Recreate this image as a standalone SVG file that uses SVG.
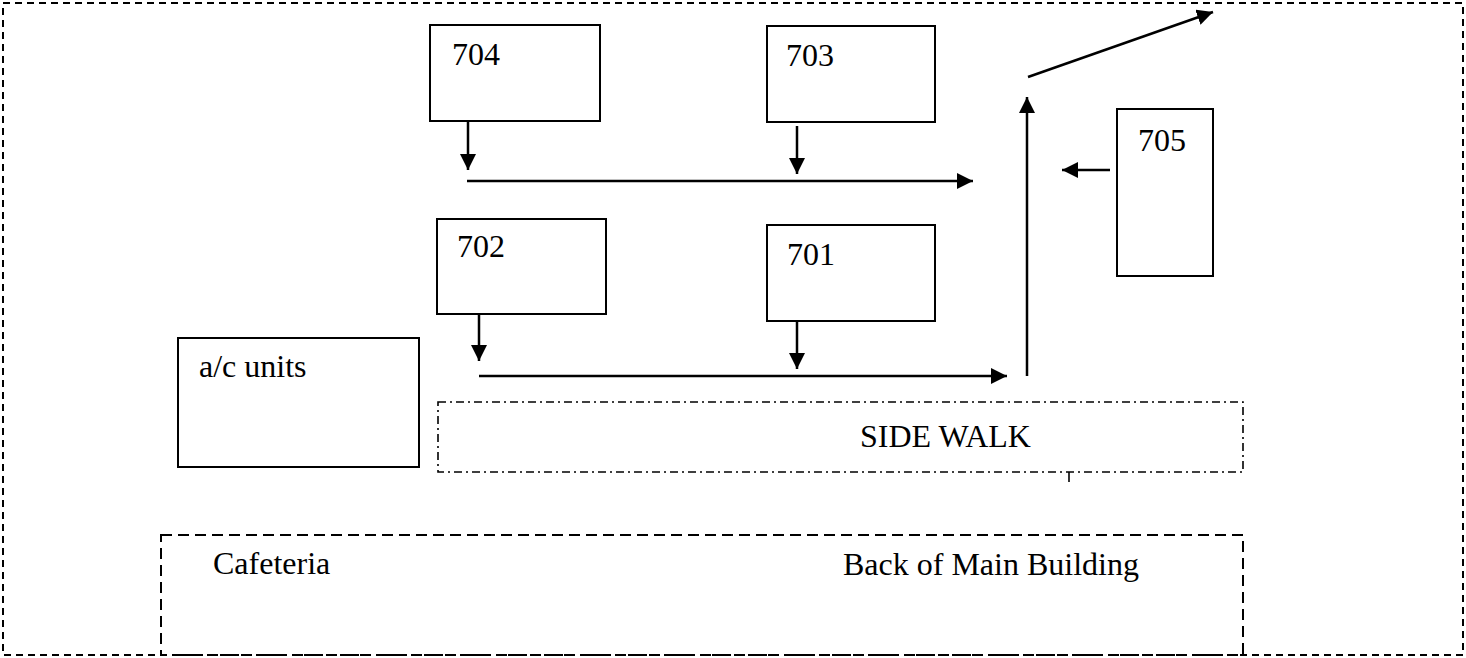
<svg xmlns="http://www.w3.org/2000/svg" width="1466" height="658" viewBox="0 0 1466 658">
<style>
.bg{fill:#fff}
.box{fill:#fff;stroke:#000;stroke-width:2}
.lbl{font-family:"Liberation Serif","Times New Roman",serif;font-size:32px;fill:#000}
.arr{stroke:#000;stroke-width:2.5;fill:none;marker-end:url(#ah)}
.outer{fill:none;stroke:#000;stroke-width:2;stroke-dasharray:7 5}
.walk{fill:none;stroke:#000;stroke-width:1.6;stroke-dasharray:8 4 2 4}
.bldg{fill:none;stroke:#000;stroke-width:2;stroke-dasharray:11 6}
</style>
<defs>
<marker id="ah" markerUnits="userSpaceOnUse" markerWidth="18" markerHeight="18" refX="16" refY="8" orient="auto">
<path d="M0,0 L16,8 L0,16 z" fill="#000"/>
</marker>
</defs>
<rect class="bg" x="0" y="0" width="1466" height="658"/>
<g id="outer-boundary"><rect class="outer" x="3" y="3" width="1460" height="652"/></g>
<g id="node-704"><rect class="box" x="430" y="25" width="170" height="96"/><text class="lbl" x="452" y="65">704</text></g>
<g id="node-703"><rect class="box" x="767" y="26" width="168" height="96"/><text class="lbl" x="786" y="66">703</text></g>
<g id="node-702"><rect class="box" x="437" y="219" width="169" height="95"/><text class="lbl" x="457" y="257">702</text></g>
<g id="node-701"><rect class="box" x="767" y="225" width="168" height="96"/><text class="lbl" x="787" y="265">701</text></g>
<g id="node-705"><rect class="box" x="1117" y="109" width="96" height="167"/><text class="lbl" x="1138" y="151">705</text></g>
<g id="node-ac"><rect class="box" x="178" y="338" width="241" height="129"/><text class="lbl" x="199" y="377">a/c units</text></g>
<g id="node-sidewalk"><rect class="walk" x="438" y="402" width="805" height="70"/><line x1="1069" y1="472" x2="1069" y2="482" stroke="#000" stroke-width="1.6"/><text class="lbl" x="860" y="447">SIDE WALK</text></g>
<g id="node-building"><rect class="bldg" x="161" y="535" width="1082" height="120"/><text class="lbl" x="213" y="574">Cafeteria</text><text class="lbl" x="843" y="575">Back of Main Building</text></g>
<g id="connectors">
<line class="arr" x1="468" y1="121" x2="468" y2="170"/>
<line class="arr" x1="797" y1="126" x2="797" y2="174"/>
<line class="arr" x1="467" y1="181" x2="973" y2="181"/>
<line class="arr" x1="479" y1="314" x2="479" y2="361"/>
<line class="arr" x1="797" y1="321" x2="797" y2="369"/>
<line class="arr" x1="479" y1="376" x2="1007" y2="376"/>
<line class="arr" x1="1027" y1="376" x2="1027" y2="97"/>
<line class="arr" x1="1110" y1="170" x2="1062" y2="170"/>
<line class="arr" x1="1028" y1="77" x2="1213" y2="12"/>
</g>
</svg>
